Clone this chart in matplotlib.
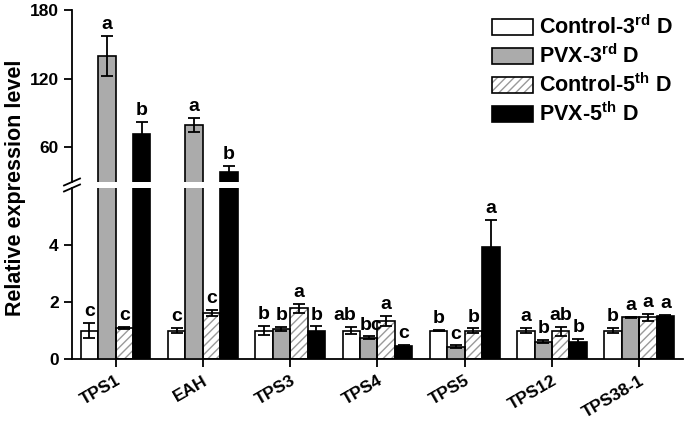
import numpy as np
import matplotlib.pyplot as plt
from matplotlib.patches import Patch
from matplotlib.legend_handler import HandlerTuple

plt.rcParams['font.family'] = 'Liberation Sans'
plt.rcParams['font.weight'] = 'bold'
plt.rcParams['mathtext.fontset'] = 'custom'
plt.rcParams['mathtext.bf'] = 'Liberation Sans:bold'
plt.rcParams['mathtext.rm'] = 'Liberation Sans:bold'
plt.rcParams['axes.linewidth'] = 1.3

genes = ["TPS1", "EAH", "TPS3", "TPS4", "TPS5", "TPS12", "TPS38-1"]
labels = [r"Control-3$^{\mathbf{rd}}$ D", r"PVX-3$^{\mathbf{rd}}$ D",
          r"Control-5$^{\mathbf{th}}$ D", r"PVX-5$^{\mathbf{th}}$ D"]

c3 = [1.0, 1.0, 1.0, 1.0, 1.0, 1.0, 1.0]
c3_err = [0.26, 0.1, 0.17, 0.13, 0.03, 0.1, 0.09]
p3 = [140, 79.5, 1.05, 0.75, 0.44, 0.61, 1.47]
p3_err = [17.5, 6, 0.07, 0.05, 0.04, 0.06, 0.02]
c5 = [1.08, 1.62, 1.78, 1.35, 1.0, 0.97, 1.47]
c5_err = [0.04, 0.12, 0.15, 0.17, 0.08, 0.15, 0.13]
p5 = [72, 39, 1.0, 0.47, 3.95, 0.61, 1.51]
p5_err = [10, 5, 0.15, 0.04, 0.93, 0.11, 0.03]

c3_let = ["c", "c", "b", "ab", "b", "a", "b"]
p3_let = ["a", "a", "b", "bc", "c", "b", "a"]
c5_let = ["c", "c", "a", "a", "b", "ab", "a"]
p5_let = ["b", "b", "b", "c", "a", "b", "a"]

means = [c3, p3, c5, p5]
errs = [c3_err, p3_err, c5_err, p5_err]
lets = [c3_let, p3_let, c5_let, p5_let]
fills = ["white", "#ababab", "white", "black"]

fig = plt.figure(figsize=(6.85, 4.22), dpi=100)
ax_top = fig.add_axes([0.105, 0.569, 0.892, 0.408])
ax_bot = fig.add_axes([0.105, 0.149, 0.892, 0.405])

x = np.arange(len(genes))
w = 0.2
for ax in (ax_top, ax_bot):
    for i in range(4):
        pos = x + (i - 1.5) * w
        if i == 2:
            ax.bar(pos, means[i], w, color="white", edgecolor="#9a9a9a",
                   hatch="////", linewidth=0, zorder=2)
            ax.bar(pos, means[i], w, color="none", edgecolor="black",
                   linewidth=1.2, zorder=3)
        else:
            ax.bar(pos, means[i], w, color=fills[i], edgecolor="black",
                   linewidth=1.2, zorder=3)
        ax.errorbar(pos, means[i], yerr=errs[i], fmt="none", ecolor="black",
                    elinewidth=1.3, capsize=4, capthick=1.3, zorder=4)
    ax.set_xlim(-0.5, 6.5)
    ax.spines["right"].set_visible(False)
    ax.spines["top"].set_visible(False)
    ax.tick_params(axis="y", direction="out", length=6, width=1.3, labelsize=12.5)

ax_top.set_ylim(30, 180)
ax_top.set_yticks([60, 120, 180])
ax_top.spines["bottom"].set_visible(False)
ax_top.set_xticks([])

ax_bot.set_ylim(0, 6)
ax_bot.set_yticks([0, 2, 4])
ax_bot.set_xticks(x)
ax_bot.set_xticklabels(genes, rotation=30, ha="right", va="top",
                       rotation_mode="anchor", fontsize=12.5, fontweight="bold")
ax_bot.tick_params(axis="x", direction="out", length=6, width=1.3, pad=4)

# letters above error bars (small sideways nudge where two labels collide)
nudge = {(0, 3): -5, (1, 3): 2}
for i in range(4):
    pos = x + (i - 1.5) * w
    for j in range(len(genes)):
        top = means[i][j] + errs[i][j]
        ax = ax_top if top > 6 else ax_bot
        ax.annotate(lets[i][j], (pos[j], top), xytext=(nudge.get((i, j), 0), 2),
                    textcoords="offset points", ha="center", va="bottom",
                    fontsize=14, fontweight="bold")

fig.text(0.022, 0.555, "Relative expression level", rotation=90,
         ha="center", va="center", fontsize=15.5, fontweight="bold")

# break marks on the y axis
for y0 in (182, 188):
    yf = 1 - y0 / 422
    fig.add_artist(plt.Line2D([64 / 685, 80 / 685], [yf - 3.5 / 422, yf + 3.5 / 422],
                              color="black", lw=1.3))

handles = [Patch(facecolor="white", edgecolor="black", linewidth=1.2),
           Patch(facecolor="#ababab", edgecolor="black", linewidth=1.2),
           (Patch(facecolor="white", edgecolor="#9a9a9a", hatch="////", linewidth=0),
            Patch(facecolor="none", edgecolor="black", linewidth=1.2)),
           Patch(facecolor="black", edgecolor="black", linewidth=1.2)]
ax_top.legend(handles, labels, handler_map={tuple: HandlerTuple(ndivide=1, pad=0)},
              loc="upper right", bbox_to_anchor=(1.005, 1.04), frameon=False,
              fontsize=15.5, handlelength=1.9, handleheight=0.75,
              labelspacing=0.25, handletextpad=0.3, borderaxespad=0.2)

fig.savefig("out.png", dpi=100)
